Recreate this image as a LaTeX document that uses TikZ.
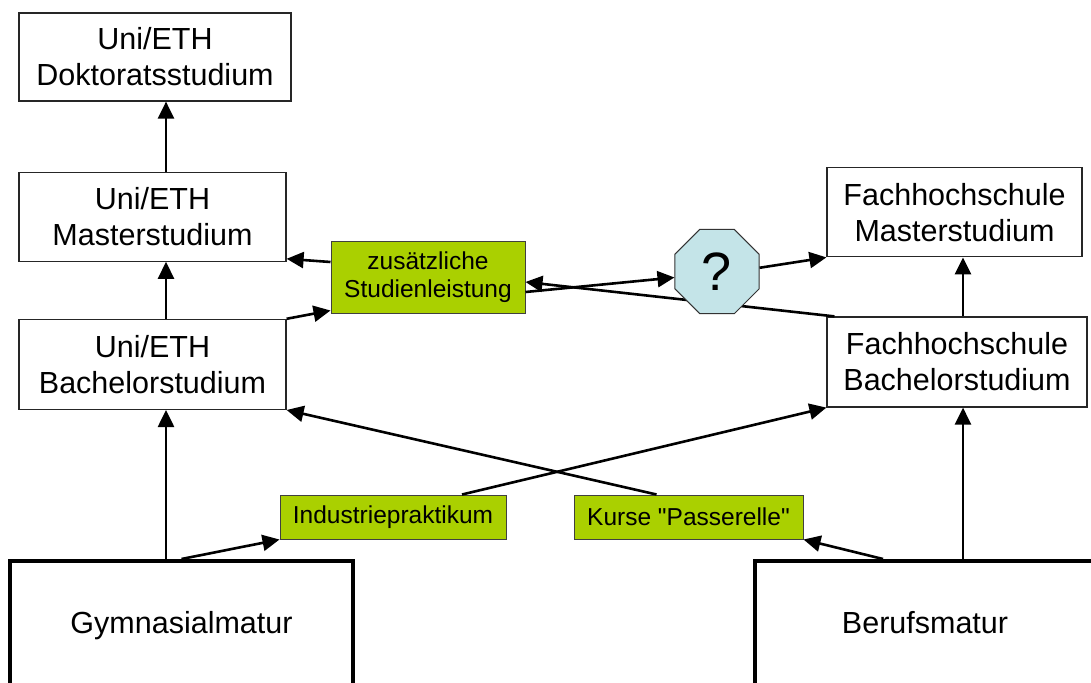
\documentclass[tikz,border=0pt]{standalone}
\usepackage{fontspec}
\setmainfont{Liberation Sans}
\usepackage{xcolor}
\usetikzlibrary{calc,positioning,arrows.meta,shapes.geometric}
\definecolor{notegreen}{RGB}{170,208,0}
\definecolor{questblue}{RGB}{196,228,232}
\newcommand{\stagefont}{\fontsize{30.5}{36}\selectfont}
\newcommand{\notefont}{\fontsize{24.5}{28}\selectfont}
\tikzset{
>={Triangle[length=17pt,width=16pt]},
  stage/.style={
    rectangle,
    draw=black!85, line width=1.2pt,
    fill=white,
    inner sep=0pt,
    align=center,
    font=\stagefont},
  matur/.style={
    rectangle,
    draw=black, line width=4pt,
    inner sep=0pt,
    text height=72pt, text depth=67pt,
    anchor=base,
    font=\stagefont},
  note/.style={
    rectangle,
    draw=black!75, line width=1pt,
    fill=notegreen,
    inner sep=0pt,
    minimum height=44pt,
    align=center,
    font=\notefont},
  conn/.style={draw, line width=2.6pt, ->},
}
\begin{document}
\begin{tikzpicture}[x=1pt,y=-1pt]
    \clip (0,0) rectangle (1091,682);
    % Uni/ETH column
    \node[stage, minimum width=272pt, minimum height=88pt] (doc) at (155,57) {Uni/ETH\\Doktoratsstudium};
    \node[stage, minimum width=267pt, minimum height=89pt, below=70pt of doc.south west, anchor=north west] (umsc) {Uni/ETH\\Masterstudium};
    \node[stage, minimum width=267pt, minimum height=90pt, below=57pt of umsc.south west, anchor=north west] (ubsc) {Uni/ETH\\Bachelorstudium};

    % Fachhochschule column
    \node[stage, minimum width=260pt, minimum height=90pt] (fbsc) at (957,362) {Fachhochschule\\Bachelorstudium};
    \node[stage, minimum width=255pt, minimum height=89pt, above=59pt of fbsc.north west, anchor=south west] (fmsc) {Fachhochschule\\Masterstudium};

    % Maturitaet
    \node[matur, minimum width=343pt] (gym) at (181.5,633) {Gymnasialmatur};
    \node[matur, minimum width=340pt] (beruf) at (925,633) {Berufsmatur};

    % Zusatzwege
    \node[note, minimum width=194pt, minimum height=72pt] (zus) at (428,277) {zus\"atzliche\\Studienleistung};
    \node[note, minimum width=226pt] (ind) at (393,517) {Industriepraktikum};
    \node[note, minimum width=229pt] (kurs) at (688.5,517) {Kurse \textquotedbl Passerelle\textquotedbl};

    \coordinate (uline) at (166,0);
    \coordinate (fline) at (963,0);

    % behind the octagon
    \path[conn] ([xshift=8pt]fbsc.north west) -- ([yshift=-5pt]zus.east);

    \node[regular polygon, regular polygon sides=8, draw=black!80, line width=1pt, fill=questblue,
          inner sep=0pt, minimum size=91pt, font=\fontsize{54}{54}\selectfont] (quest) at (717,271.5) {?};

    \path[conn] (ubsc.north -| uline) -- (umsc.south -| uline);
    \path[conn] (umsc.north -| uline) -- (doc.south -| uline);
    \path[conn] (gym.north -| uline) -- (ubsc.south -| uline);
    \path[conn] (gym.north) -- (ind.south west);
    \path[conn] ([xshift=69pt]ind.north) -- (fbsc.south west);
    \path[conn] ([xshift=-32pt]kurs.north) -- (ubsc.south east);
    \path[conn] ([xshift=-42pt]beruf.north) -- (kurs.south east);
    \path[conn] (beruf.north -| fline) -- (fbsc.south -| fline);
    \path[conn] (fbsc.north -| fline) -- (fmsc.south -| fline);
    \path[conn] (ubsc.north east) -- ([yshift=3pt]zus.south west);
    \path[conn] ([yshift=15pt]zus.west) -- ([yshift=3pt]umsc.south east);
    \path[conn] ([yshift=-15pt]zus.east) -- (quest.188);
    \path[conn] (quest.5) -- (fmsc.south west);
\end{tikzpicture}
\end{document}
